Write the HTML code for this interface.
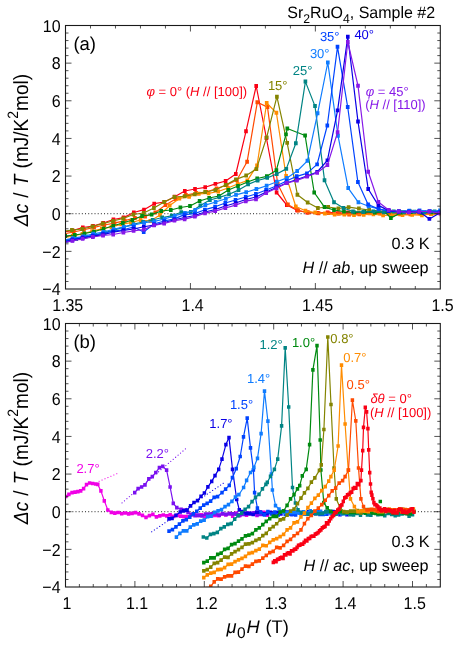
<!DOCTYPE html>
<html><head><meta charset="utf-8"><title>Sr2RuO4 specific heat</title>
<style>html,body{margin:0;padding:0;background:#fff}body{width:463px;height:649px;overflow:hidden;font-family:"Liberation Sans",sans-serif}svg{display:block;will-change:transform;transform:translateZ(0)}</style></head>
<body>
<svg width="463" height="649" viewBox="0 0 463 649" font-family='"Liberation Sans", sans-serif' text-rendering="geometricPrecision">
<rect width="463" height="649" fill="#fff"/>
<defs><clipPath id="ca"><rect x="65.5" y="25.5" width="374.8" height="263.5"/></clipPath>
<clipPath id="cb"><rect x="65.5" y="323.5" width="374.8" height="263.5"/></clipPath></defs>
<path d="M66 213.71H440.3" stroke="#222" stroke-width="1" stroke-dasharray="1 2.17" fill="none"/>
<g clip-path="url(#ca)">
<path d="M62.4 232 L72.6 230.6 L82.8 227.5 L93 226 L103.2 223 L113.4 219.5 L123.6 217.6 L133.8 212.5 L144 209.7 L154.2 203.7 L164.4 202 L174.6 196.8 L184.8 191 L195 189 L205.2 187.3 L215.4 183.9 L225.6 181 L235.8 174 L246 131.3 L256.2 86 L266.4 138 L276.6 192.5 L286.8 205 L297 210.3 L307.2 212.5 L317.4 213 L327.6 212.4 L337.8 213.2 L348 212.6 L358.2 213.3 L368.4 212.5 L378.6 213 L388.8 212.2 L399 213.4 L409.2 212.6 L419.4 213 L429.6 212.4 L439.8 213 L450 213.2" fill="none" stroke="#fa0014" stroke-width="1.2" stroke-linejoin="round"/><path d="M60.58 230.02h3.65v3.95h-3.65zM70.78 228.62h3.65v3.95h-3.65zM80.98 225.52h3.65v3.95h-3.65zM91.18 224.02h3.65v3.95h-3.65zM101.38 221.02h3.65v3.95h-3.65zM111.58 217.52h3.65v3.95h-3.65zM121.78 215.62h3.65v3.95h-3.65zM131.98 210.52h3.65v3.95h-3.65zM142.18 207.72h3.65v3.95h-3.65zM152.38 201.72h3.65v3.95h-3.65zM162.58 200.02h3.65v3.95h-3.65zM172.78 194.82h3.65v3.95h-3.65zM182.98 189.02h3.65v3.95h-3.65zM193.18 187.02h3.65v3.95h-3.65zM203.38 185.32h3.65v3.95h-3.65zM213.58 181.92h3.65v3.95h-3.65zM223.78 179.02h3.65v3.95h-3.65zM233.98 172.02h3.65v3.95h-3.65zM244.18 129.32h3.65v3.95h-3.65zM254.38 84.02h3.65v3.95h-3.65zM264.58 136.02h3.65v3.95h-3.65zM274.78 190.52h3.65v3.95h-3.65zM284.98 203.02h3.65v3.95h-3.65zM295.18 208.32h3.65v3.95h-3.65zM305.38 210.52h3.65v3.95h-3.65zM315.58 211.02h3.65v3.95h-3.65zM325.78 210.42h3.65v3.95h-3.65zM335.98 211.22h3.65v3.95h-3.65zM346.18 210.62h3.65v3.95h-3.65zM356.38 211.32h3.65v3.95h-3.65zM366.58 210.52h3.65v3.95h-3.65zM376.78 211.02h3.65v3.95h-3.65zM386.98 210.22h3.65v3.95h-3.65zM397.18 211.42h3.65v3.95h-3.65zM407.38 210.62h3.65v3.95h-3.65zM417.58 211.02h3.65v3.95h-3.65zM427.78 210.42h3.65v3.95h-3.65zM437.98 211.02h3.65v3.95h-3.65zM448.18 211.23h3.65v3.95h-3.65z" fill="#fa0014"/>
<path d="M53.3 235.69 L63.5 234 L73.7 232 L83.9 229.76 L94.1 227.36 L104.3 225 L114.5 223.12 L124.7 220.61 L134.9 218 L145.1 216.5 L155.3 212.5 L165.5 205 L175.7 199 L185.9 195 L196.1 193 L206.3 192 L216.5 188.5 L226.7 185 L236.9 180 L247.1 161.8 L257.3 102.3 L267.5 107.1 L277.7 184 L287.9 204.5 L298.1 210.5 L308.3 212.6 L318.5 213.2 L328.7 213.15 L338.9 213.6 L349.1 214.48 L359.3 214.2 L369.5 213.24 L379.7 213.2 L389.9 213.5 L400.1 214.31 L410.3 214.4 L420.5 213.65 L430.7 213.72 L440.9 213.4 L451.1 212.85" fill="none" stroke="#ff4a00" stroke-width="1.2" stroke-linejoin="round"/><path d="M51.48 233.72h3.65v3.95h-3.65zM61.68 232.02h3.65v3.95h-3.65zM71.88 230.02h3.65v3.95h-3.65zM82.08 227.78h3.65v3.95h-3.65zM92.28 225.39h3.65v3.95h-3.65zM102.48 223.02h3.65v3.95h-3.65zM112.68 221.14h3.65v3.95h-3.65zM122.88 218.63h3.65v3.95h-3.65zM133.08 216.02h3.65v3.95h-3.65zM143.28 214.52h3.65v3.95h-3.65zM153.48 210.52h3.65v3.95h-3.65zM163.68 203.02h3.65v3.95h-3.65zM173.88 197.02h3.65v3.95h-3.65zM184.08 193.02h3.65v3.95h-3.65zM194.28 191.02h3.65v3.95h-3.65zM204.48 190.02h3.65v3.95h-3.65zM214.68 186.52h3.65v3.95h-3.65zM224.88 183.02h3.65v3.95h-3.65zM235.08 178.02h3.65v3.95h-3.65zM245.28 159.82h3.65v3.95h-3.65zM255.48 100.32h3.65v3.95h-3.65zM265.68 105.12h3.65v3.95h-3.65zM275.88 182.02h3.65v3.95h-3.65zM286.08 202.52h3.65v3.95h-3.65zM296.28 208.52h3.65v3.95h-3.65zM306.48 210.62h3.65v3.95h-3.65zM316.68 211.22h3.65v3.95h-3.65zM326.88 211.17h3.65v3.95h-3.65zM337.08 211.62h3.65v3.95h-3.65zM347.28 212.5h3.65v3.95h-3.65zM357.48 212.22h3.65v3.95h-3.65zM367.68 211.27h3.65v3.95h-3.65zM377.88 211.22h3.65v3.95h-3.65zM388.08 211.53h3.65v3.95h-3.65zM398.28 212.33h3.65v3.95h-3.65zM408.48 212.42h3.65v3.95h-3.65zM418.68 211.67h3.65v3.95h-3.65zM428.88 211.74h3.65v3.95h-3.65zM439.08 211.42h3.65v3.95h-3.65zM449.28 210.87h3.65v3.95h-3.65z" fill="#ff4a00"/>
<path d="M63 238.06 L72.7 236 L82.4 234 L92.1 231.14 L101.8 228.8 L111.5 227 L121.2 224.31 L130.9 222.55 L140.6 220 L150.3 221 L160 215 L169.7 205.5 L179.4 198.5 L189.1 196.7 L198.8 193.8 L208.5 193.3 L218.2 191.5 L227.9 188 L237.6 184 L247.3 180.6 L257 165.6 L266.7 103 L276.4 112.8 L286.1 176 L295.8 206.5 L305.5 210.8 L315.2 212.6 L324.9 213.51 L334.6 214.6 L344.3 214.58 L354 215 L363.7 214.7 L373.4 214.2 L383.1 215.3 L392.8 215.09 L402.5 215 L412.2 214.86 L421.9 215.2 L431.6 214 L441.3 214.35 L451 214.24" fill="none" stroke="#ff8c00" stroke-width="1.2" stroke-linejoin="round"/><path d="M61.18 236.08h3.65v3.95h-3.65zM70.88 234.02h3.65v3.95h-3.65zM80.58 232.02h3.65v3.95h-3.65zM90.28 229.17h3.65v3.95h-3.65zM99.98 226.83h3.65v3.95h-3.65zM109.68 225.02h3.65v3.95h-3.65zM119.38 222.34h3.65v3.95h-3.65zM129.08 220.57h3.65v3.95h-3.65zM138.78 218.02h3.65v3.95h-3.65zM148.48 219.02h3.65v3.95h-3.65zM158.18 213.02h3.65v3.95h-3.65zM167.88 203.52h3.65v3.95h-3.65zM177.58 196.52h3.65v3.95h-3.65zM187.28 194.72h3.65v3.95h-3.65zM196.98 191.82h3.65v3.95h-3.65zM206.68 191.32h3.65v3.95h-3.65zM216.38 189.52h3.65v3.95h-3.65zM226.08 186.02h3.65v3.95h-3.65zM235.78 182.02h3.65v3.95h-3.65zM245.48 178.62h3.65v3.95h-3.65zM255.18 163.62h3.65v3.95h-3.65zM264.88 101.02h3.65v3.95h-3.65zM274.58 110.82h3.65v3.95h-3.65zM284.28 174.02h3.65v3.95h-3.65zM293.98 204.52h3.65v3.95h-3.65zM303.68 208.82h3.65v3.95h-3.65zM313.38 210.62h3.65v3.95h-3.65zM323.08 211.54h3.65v3.95h-3.65zM332.78 212.62h3.65v3.95h-3.65zM342.48 212.6h3.65v3.95h-3.65zM352.18 213.02h3.65v3.95h-3.65zM361.88 212.73h3.65v3.95h-3.65zM371.58 212.22h3.65v3.95h-3.65zM381.28 213.32h3.65v3.95h-3.65zM390.98 213.12h3.65v3.95h-3.65zM400.68 213.02h3.65v3.95h-3.65zM410.38 212.88h3.65v3.95h-3.65zM420.08 213.22h3.65v3.95h-3.65zM429.78 212.02h3.65v3.95h-3.65zM439.48 212.38h3.65v3.95h-3.65zM449.18 212.26h3.65v3.95h-3.65z" fill="#ff8c00"/>
<path d="M61.65 231.5 L71.9 230.1 L82.15 229 L92.4 226.5 L102.65 223.6 L112.9 221 L123.15 218.5 L133.4 214.5 L143.65 213 L153.9 208 L164.15 202 L174.4 197 L184.65 196.3 L194.9 194.2 L205.15 192 L215.4 190 L225.65 185 L235.9 179.4 L246.15 175.6 L256.4 169 L266.65 137.4 L276.9 96.7 L287.15 142.9 L297.4 194.7 L307.65 202.5 L317.9 208 L328.15 207 L338.4 208.5 L348.65 207.2 L358.9 208.6 L369.15 210 L379.4 211 L389.65 211.8 L399.9 212.2 L410.15 211.6 L420.4 212.4 L430.65 212 L440.9 212.5 L451.15 212.35" fill="none" stroke="#848400" stroke-width="1.2" stroke-linejoin="round"/><path d="M59.83 229.52h3.65v3.95h-3.65zM70.08 228.12h3.65v3.95h-3.65zM80.33 227.02h3.65v3.95h-3.65zM90.58 224.52h3.65v3.95h-3.65zM100.83 221.62h3.65v3.95h-3.65zM111.08 219.02h3.65v3.95h-3.65zM121.33 216.52h3.65v3.95h-3.65zM131.58 212.52h3.65v3.95h-3.65zM141.83 211.02h3.65v3.95h-3.65zM152.08 206.02h3.65v3.95h-3.65zM162.33 200.02h3.65v3.95h-3.65zM172.58 195.02h3.65v3.95h-3.65zM182.83 194.32h3.65v3.95h-3.65zM193.08 192.22h3.65v3.95h-3.65zM203.33 190.02h3.65v3.95h-3.65zM213.58 188.02h3.65v3.95h-3.65zM223.83 183.02h3.65v3.95h-3.65zM234.08 177.42h3.65v3.95h-3.65zM244.33 173.62h3.65v3.95h-3.65zM254.58 167.02h3.65v3.95h-3.65zM264.83 135.42h3.65v3.95h-3.65zM275.08 94.72h3.65v3.95h-3.65zM285.33 140.92h3.65v3.95h-3.65zM295.58 192.72h3.65v3.95h-3.65zM305.83 200.52h3.65v3.95h-3.65zM316.08 206.02h3.65v3.95h-3.65zM326.33 205.02h3.65v3.95h-3.65zM336.58 206.52h3.65v3.95h-3.65zM346.83 205.22h3.65v3.95h-3.65zM357.08 206.62h3.65v3.95h-3.65zM367.33 208.02h3.65v3.95h-3.65zM377.58 209.02h3.65v3.95h-3.65zM387.83 209.82h3.65v3.95h-3.65zM398.08 210.22h3.65v3.95h-3.65zM408.33 209.62h3.65v3.95h-3.65zM418.58 210.42h3.65v3.95h-3.65zM428.83 210.02h3.65v3.95h-3.65zM439.08 210.52h3.65v3.95h-3.65zM449.33 210.37h3.65v3.95h-3.65z" fill="#848400"/>
<path d="M55.6 237.79 L65.2 236.08 L74.8 235 L84.4 233.5 L94 231.7 L103.6 228.8 L113.2 225.8 L122.8 223 L132.4 220 L142 216 L151.6 214.6 L161.2 211 L170.8 210 L180.4 207.5 L190 206 L199.6 201 L209.2 198 L218.8 196 L228.4 190 L238 186 L247.6 182 L257.2 178.5 L266.8 176.3 L276.4 170.2 L286 134.4 L287.3 128.5 L305.1 135.5 L314.2 192.5 L324.5 207.1 L334 210 L344 211.6 L354.3 212.4 L364.5 211.8 L374.8 212.6 L385 212 L390.9 218 L401 212.6 L411.2 212 L421.4 212.8 L431.6 212.2 L439.8 212.6" fill="none" stroke="#008a10" stroke-width="1.2" stroke-linejoin="round"/><path d="M53.78 235.81h3.65v3.95h-3.65zM63.38 234.11h3.65v3.95h-3.65zM72.98 233.02h3.65v3.95h-3.65zM82.58 231.52h3.65v3.95h-3.65zM92.18 229.72h3.65v3.95h-3.65zM101.78 226.82h3.65v3.95h-3.65zM111.38 223.82h3.65v3.95h-3.65zM120.98 221.02h3.65v3.95h-3.65zM130.58 218.02h3.65v3.95h-3.65zM140.18 214.02h3.65v3.95h-3.65zM149.78 212.62h3.65v3.95h-3.65zM159.38 209.02h3.65v3.95h-3.65zM168.98 208.02h3.65v3.95h-3.65zM178.58 205.52h3.65v3.95h-3.65zM188.18 204.02h3.65v3.95h-3.65zM197.78 199.02h3.65v3.95h-3.65zM207.38 196.02h3.65v3.95h-3.65zM216.98 194.02h3.65v3.95h-3.65zM226.58 188.02h3.65v3.95h-3.65zM236.18 184.02h3.65v3.95h-3.65zM245.78 180.02h3.65v3.95h-3.65zM255.38 176.52h3.65v3.95h-3.65zM264.98 174.32h3.65v3.95h-3.65zM274.58 168.22h3.65v3.95h-3.65zM284.18 132.42h3.65v3.95h-3.65zM285.48 126.52h3.65v3.95h-3.65zM303.28 133.52h3.65v3.95h-3.65zM312.38 190.52h3.65v3.95h-3.65zM322.68 205.12h3.65v3.95h-3.65zM332.18 208.02h3.65v3.95h-3.65zM342.18 209.62h3.65v3.95h-3.65zM352.48 210.42h3.65v3.95h-3.65zM362.68 209.82h3.65v3.95h-3.65zM372.98 210.62h3.65v3.95h-3.65zM383.18 210.02h3.65v3.95h-3.65zM389.08 216.02h3.65v3.95h-3.65zM399.18 210.62h3.65v3.95h-3.65zM409.38 210.02h3.65v3.95h-3.65zM419.58 210.82h3.65v3.95h-3.65zM429.78 210.22h3.65v3.95h-3.65zM437.98 210.62h3.65v3.95h-3.65z" fill="#008a10"/>
<path d="M57.1 243.98 L66.65 240.89 L76.2 239 L85.75 236.6 L95.3 235 L104.85 232.54 L114.4 230 L123.95 227.17 L133.5 224.14 L143.05 222 L152.6 220 L162.15 217.5 L171.7 215.8 L181.25 212.3 L190.8 212 L200.35 205.5 L209.9 200 L219.45 197.4 L229 194.2 L238.55 190.1 L248.1 184.4 L257.65 180.5 L267.2 177.9 L276.75 174 L286.3 168.9 L295.85 143.2 L305.4 81.6 L315 106.1 L324.5 180.2 L334 202.3 L343.5 208 L353 211.5 L363.2 212 L373.4 211.4 L383.6 212.2 L393.8 211.6 L404 212.3 L414.2 211.8 L424.4 212.2 L434.6 211.6 L440 212" fill="none" stroke="#008484" stroke-width="1.2" stroke-linejoin="round"/><path d="M55.28 242.01h3.65v3.95h-3.65zM64.83 238.91h3.65v3.95h-3.65zM74.38 237.02h3.65v3.95h-3.65zM83.93 234.62h3.65v3.95h-3.65zM93.48 233.02h3.65v3.95h-3.65zM103.03 230.57h3.65v3.95h-3.65zM112.58 228.02h3.65v3.95h-3.65zM122.13 225.2h3.65v3.95h-3.65zM131.68 222.16h3.65v3.95h-3.65zM141.23 220.02h3.65v3.95h-3.65zM150.78 218.02h3.65v3.95h-3.65zM160.33 215.52h3.65v3.95h-3.65zM169.88 213.82h3.65v3.95h-3.65zM179.43 210.32h3.65v3.95h-3.65zM188.98 210.02h3.65v3.95h-3.65zM198.53 203.52h3.65v3.95h-3.65zM208.08 198.02h3.65v3.95h-3.65zM217.63 195.42h3.65v3.95h-3.65zM227.18 192.22h3.65v3.95h-3.65zM236.73 188.12h3.65v3.95h-3.65zM246.28 182.42h3.65v3.95h-3.65zM255.83 178.52h3.65v3.95h-3.65zM265.38 175.92h3.65v3.95h-3.65zM274.93 172.02h3.65v3.95h-3.65zM284.48 166.92h3.65v3.95h-3.65zM294.03 141.22h3.65v3.95h-3.65zM303.58 79.62h3.65v3.95h-3.65zM313.18 104.12h3.65v3.95h-3.65zM322.68 178.22h3.65v3.95h-3.65zM332.18 200.32h3.65v3.95h-3.65zM341.68 206.02h3.65v3.95h-3.65zM351.18 209.52h3.65v3.95h-3.65zM361.38 210.02h3.65v3.95h-3.65zM371.58 209.42h3.65v3.95h-3.65zM381.78 210.22h3.65v3.95h-3.65zM391.98 209.62h3.65v3.95h-3.65zM402.18 210.32h3.65v3.95h-3.65zM412.38 209.82h3.65v3.95h-3.65zM422.58 210.22h3.65v3.95h-3.65zM432.78 209.62h3.65v3.95h-3.65zM438.18 210.02h3.65v3.95h-3.65z" fill="#008484"/>
<path d="M62.6 240.5 L72.8 238.2 L83 236.56 L93.2 233.81 L103.4 232 L113.6 229.24 L123.8 226.87 L134 225 L144.2 222.77 L154.4 221.38 L164.6 219 L174.8 215.62 L185 213.1 L195.2 210 L205.4 205.1 L215.6 202 L225.8 198.7 L236 194.8 L246.2 192.2 L256.4 189.1 L266.6 185.7 L276.8 181.8 L287 177.9 L297.2 171 L307.4 160.8 L317.6 113.3 L327.8 62.5 L338 135.7 L348.2 188.1 L358.4 202.3 L368.6 206.3 L378.8 209 L389 210.8 L399.2 211.4 L409.4 210.8 L419.6 210.4 L429.8 211 L440 210.6 L450.2 210.77" fill="none" stroke="#0f7cff" stroke-width="1.2" stroke-linejoin="round"/><path d="M60.78 238.52h3.65v3.95h-3.65zM70.98 236.22h3.65v3.95h-3.65zM81.18 234.59h3.65v3.95h-3.65zM91.38 231.84h3.65v3.95h-3.65zM101.58 230.02h3.65v3.95h-3.65zM111.78 227.26h3.65v3.95h-3.65zM121.98 224.9h3.65v3.95h-3.65zM132.18 223.02h3.65v3.95h-3.65zM142.38 220.79h3.65v3.95h-3.65zM152.58 219.4h3.65v3.95h-3.65zM162.78 217.02h3.65v3.95h-3.65zM172.98 213.64h3.65v3.95h-3.65zM183.18 211.12h3.65v3.95h-3.65zM193.38 208.02h3.65v3.95h-3.65zM203.58 203.12h3.65v3.95h-3.65zM213.78 200.02h3.65v3.95h-3.65zM223.98 196.72h3.65v3.95h-3.65zM234.18 192.82h3.65v3.95h-3.65zM244.38 190.22h3.65v3.95h-3.65zM254.58 187.12h3.65v3.95h-3.65zM264.78 183.72h3.65v3.95h-3.65zM274.98 179.82h3.65v3.95h-3.65zM285.18 175.92h3.65v3.95h-3.65zM295.38 169.02h3.65v3.95h-3.65zM305.58 158.82h3.65v3.95h-3.65zM315.78 111.32h3.65v3.95h-3.65zM325.98 60.52h3.65v3.95h-3.65zM336.18 133.72h3.65v3.95h-3.65zM346.38 186.12h3.65v3.95h-3.65zM356.58 200.32h3.65v3.95h-3.65zM366.78 204.32h3.65v3.95h-3.65zM376.98 207.02h3.65v3.95h-3.65zM387.18 208.82h3.65v3.95h-3.65zM397.38 209.42h3.65v3.95h-3.65zM407.58 208.82h3.65v3.95h-3.65zM417.78 208.42h3.65v3.95h-3.65zM427.98 209.02h3.65v3.95h-3.65zM438.18 208.62h3.65v3.95h-3.65zM448.38 208.79h3.65v3.95h-3.65z" fill="#0f7cff"/>
<path d="M62.1 241.5 L72.3 239.2 L82.5 237.84 L92.7 235.49 L102.9 233.5 L113.1 231.21 L123.3 229.74 L133.5 227 L143.7 232 L153.9 224 L164.1 221 L174.3 218.9 L184.5 214.6 L194.7 213.6 L204.9 209.7 L215.1 206.8 L225.3 203 L235.5 200 L245.7 197 L255.9 194 L266.1 190 L276.3 186 L286.5 181 L296.7 176.3 L306.9 173.4 L317.1 164.4 L327.3 125.5 L337.5 46.8 L347.7 107 L357.9 182.1 L368.1 204.5 L378.3 208.9 L388.5 211 L398.7 211.6 L408.9 211.2 L419.1 211.8 L429.3 211.4 L439.5 212 L449.7 211.46" fill="none" stroke="#0044ff" stroke-width="1.2" stroke-linejoin="round"/><path d="M60.28 239.52h3.65v3.95h-3.65zM70.48 237.22h3.65v3.95h-3.65zM80.68 235.86h3.65v3.95h-3.65zM90.88 233.52h3.65v3.95h-3.65zM101.08 231.52h3.65v3.95h-3.65zM111.28 229.23h3.65v3.95h-3.65zM121.48 227.76h3.65v3.95h-3.65zM131.68 225.02h3.65v3.95h-3.65zM141.88 230.02h3.65v3.95h-3.65zM152.08 222.02h3.65v3.95h-3.65zM162.28 219.02h3.65v3.95h-3.65zM172.48 216.92h3.65v3.95h-3.65zM182.68 212.62h3.65v3.95h-3.65zM192.88 211.62h3.65v3.95h-3.65zM203.08 207.72h3.65v3.95h-3.65zM213.28 204.82h3.65v3.95h-3.65zM223.48 201.02h3.65v3.95h-3.65zM233.68 198.02h3.65v3.95h-3.65zM243.88 195.02h3.65v3.95h-3.65zM254.08 192.02h3.65v3.95h-3.65zM264.28 188.02h3.65v3.95h-3.65zM274.48 184.02h3.65v3.95h-3.65zM284.68 179.02h3.65v3.95h-3.65zM294.88 174.32h3.65v3.95h-3.65zM305.08 171.42h3.65v3.95h-3.65zM315.28 162.42h3.65v3.95h-3.65zM325.48 123.52h3.65v3.95h-3.65zM335.68 44.82h3.65v3.95h-3.65zM345.88 105.02h3.65v3.95h-3.65zM356.08 180.12h3.65v3.95h-3.65zM366.28 202.52h3.65v3.95h-3.65zM376.48 206.92h3.65v3.95h-3.65zM386.68 209.02h3.65v3.95h-3.65zM396.88 209.62h3.65v3.95h-3.65zM407.08 209.22h3.65v3.95h-3.65zM417.28 209.82h3.65v3.95h-3.65zM427.48 209.42h3.65v3.95h-3.65zM437.68 210.02h3.65v3.95h-3.65zM447.88 209.48h3.65v3.95h-3.65z" fill="#0044ff"/>
<path d="M62.2 242.5 L72.4 240.2 L82.6 237.78 L92.8 236.39 L103 234.6 L113.2 232.22 L123.4 230.38 L133.6 229 L143.8 226.74 L154 225.06 L164.2 222.5 L174.4 219.72 L184.6 217.5 L194.8 215.5 L205 212 L215.2 209.5 L225.4 206 L235.6 203 L245.8 199.5 L256 197 L266.2 192 L276.4 187.5 L286.6 183 L296.8 179.5 L307 176 L317.2 172 L327.4 160.4 L337.6 110.4 L347.8 36.7 L358 121.6 L368.2 189 L378.4 205.4 L388.6 210.6 L398.8 211.6 L409 212 L419.2 211.4 L429.4 218.9 L439.6 213 L449.8 213.15" fill="none" stroke="#0a00e6" stroke-width="1.2" stroke-linejoin="round"/><path d="M60.38 240.52h3.65v3.95h-3.65zM70.58 238.22h3.65v3.95h-3.65zM80.78 235.8h3.65v3.95h-3.65zM90.98 234.41h3.65v3.95h-3.65zM101.18 232.62h3.65v3.95h-3.65zM111.38 230.24h3.65v3.95h-3.65zM121.58 228.4h3.65v3.95h-3.65zM131.78 227.02h3.65v3.95h-3.65zM141.98 224.77h3.65v3.95h-3.65zM152.18 223.08h3.65v3.95h-3.65zM162.38 220.52h3.65v3.95h-3.65zM172.58 217.74h3.65v3.95h-3.65zM182.78 215.53h3.65v3.95h-3.65zM192.98 213.52h3.65v3.95h-3.65zM203.18 210.02h3.65v3.95h-3.65zM213.38 207.52h3.65v3.95h-3.65zM223.58 204.02h3.65v3.95h-3.65zM233.78 201.02h3.65v3.95h-3.65zM243.98 197.52h3.65v3.95h-3.65zM254.18 195.02h3.65v3.95h-3.65zM264.38 190.02h3.65v3.95h-3.65zM274.58 185.52h3.65v3.95h-3.65zM284.78 181.02h3.65v3.95h-3.65zM294.98 177.52h3.65v3.95h-3.65zM305.18 174.02h3.65v3.95h-3.65zM315.38 170.02h3.65v3.95h-3.65zM325.58 158.42h3.65v3.95h-3.65zM335.78 108.42h3.65v3.95h-3.65zM345.98 34.72h3.65v3.95h-3.65zM356.18 119.62h3.65v3.95h-3.65zM366.38 187.02h3.65v3.95h-3.65zM376.58 203.42h3.65v3.95h-3.65zM386.78 208.62h3.65v3.95h-3.65zM396.98 209.62h3.65v3.95h-3.65zM407.18 210.02h3.65v3.95h-3.65zM417.38 209.42h3.65v3.95h-3.65zM427.58 216.92h3.65v3.95h-3.65zM437.78 211.02h3.65v3.95h-3.65zM447.98 211.18h3.65v3.95h-3.65z" fill="#0a00e6"/>
<path d="M62.2 243 L72.4 240.8 L82.6 238.8 L92.8 237 L103 235.5 L113.2 234.5 L123.4 232.5 L133.6 230.8 L143.8 229.5 L154 225.3 L164.2 223.5 L174.4 220.6 L184.6 219.2 L194.8 216.6 L205 213.2 L215.2 211.1 L225.4 208 L235.6 205.1 L245.8 201.2 L256 199.4 L266.2 193 L276.4 188.3 L286.6 183.1 L296.8 180.5 L307 176.6 L317.2 172.7 L327.4 165.1 L337.6 132.3 L347.8 42 L358 85.7 L368.2 171.7 L378.4 202 L388.6 210 L398.8 211.5 L409 212.3 L419.2 211.5 L429.4 211.5 L439.6 213.2 L449.8 213.21" fill="none" stroke="#8618e8" stroke-width="1.2" stroke-linejoin="round"/><path d="M60.38 241.02h3.65v3.95h-3.65zM70.58 238.82h3.65v3.95h-3.65zM80.78 236.82h3.65v3.95h-3.65zM90.98 235.02h3.65v3.95h-3.65zM101.18 233.52h3.65v3.95h-3.65zM111.38 232.52h3.65v3.95h-3.65zM121.58 230.52h3.65v3.95h-3.65zM131.78 228.82h3.65v3.95h-3.65zM141.98 227.52h3.65v3.95h-3.65zM152.18 223.32h3.65v3.95h-3.65zM162.38 221.52h3.65v3.95h-3.65zM172.58 218.62h3.65v3.95h-3.65zM182.78 217.22h3.65v3.95h-3.65zM192.98 214.62h3.65v3.95h-3.65zM203.18 211.22h3.65v3.95h-3.65zM213.38 209.12h3.65v3.95h-3.65zM223.58 206.02h3.65v3.95h-3.65zM233.78 203.12h3.65v3.95h-3.65zM243.98 199.22h3.65v3.95h-3.65zM254.18 197.42h3.65v3.95h-3.65zM264.38 191.02h3.65v3.95h-3.65zM274.58 186.32h3.65v3.95h-3.65zM284.78 181.12h3.65v3.95h-3.65zM294.98 178.52h3.65v3.95h-3.65zM305.18 174.62h3.65v3.95h-3.65zM315.38 170.72h3.65v3.95h-3.65zM325.58 163.12h3.65v3.95h-3.65zM335.78 130.32h3.65v3.95h-3.65zM345.98 40.02h3.65v3.95h-3.65zM356.18 83.72h3.65v3.95h-3.65zM366.38 169.72h3.65v3.95h-3.65zM376.58 200.02h3.65v3.95h-3.65zM386.78 208.02h3.65v3.95h-3.65zM396.98 209.52h3.65v3.95h-3.65zM407.18 210.32h3.65v3.95h-3.65zM417.38 209.52h3.65v3.95h-3.65zM427.58 209.52h3.65v3.95h-3.65zM437.78 211.22h3.65v3.95h-3.65zM447.98 211.23h3.65v3.95h-3.65z" fill="#8618e8"/>
</g>
<path d="M65.5 33.03h3M440.3 33.03h-3M65.5 40.56h3M440.3 40.56h-3M65.5 48.09h3M440.3 48.09h-3M65.5 55.61h3M440.3 55.61h-3M65.5 63.14h6M440.3 63.14h-6M65.5 70.67h3M440.3 70.67h-3M65.5 78.2h3M440.3 78.2h-3M65.5 85.73h3M440.3 85.73h-3M65.5 93.26h3M440.3 93.26h-3M65.5 100.79h6M440.3 100.79h-6M65.5 108.31h3M440.3 108.31h-3M65.5 115.84h3M440.3 115.84h-3M65.5 123.37h3M440.3 123.37h-3M65.5 130.9h3M440.3 130.9h-3M65.5 138.43h6M440.3 138.43h-6M65.5 145.96h3M440.3 145.96h-3M65.5 153.49h3M440.3 153.49h-3M65.5 161.01h3M440.3 161.01h-3M65.5 168.54h3M440.3 168.54h-3M65.5 176.07h6M440.3 176.07h-6M65.5 183.6h3M440.3 183.6h-3M65.5 191.13h3M440.3 191.13h-3M65.5 198.66h3M440.3 198.66h-3M65.5 206.19h3M440.3 206.19h-3M65.5 213.71h6M440.3 213.71h-6M65.5 221.24h3M440.3 221.24h-3M65.5 228.77h3M440.3 228.77h-3M65.5 236.3h3M440.3 236.3h-3M65.5 243.83h3M440.3 243.83h-3M65.5 251.36h6M440.3 251.36h-6M65.5 258.89h3M440.3 258.89h-3M65.5 266.41h3M440.3 266.41h-3M65.5 273.94h3M440.3 273.94h-3M65.5 281.47h3M440.3 281.47h-3M190.43 289v-6M190.43 25.5v6M315.37 289v-6M315.37 25.5v6M90.49 289v-3M90.49 25.5v3M115.47 289v-3M115.47 25.5v3M140.46 289v-3M140.46 25.5v3M165.45 289v-3M165.45 25.5v3M215.42 289v-3M215.42 25.5v3M240.41 289v-3M240.41 25.5v3M265.39 289v-3M265.39 25.5v3M290.38 289v-3M290.38 25.5v3M340.35 289v-3M340.35 25.5v3M365.34 289v-3M365.34 25.5v3M390.33 289v-3M390.33 25.5v3M415.31 289v-3M415.31 25.5v3" stroke="#1a1a1a" stroke-width="0.75" fill="none"/>
<rect x="65.5" y="25.5" width="374.8" height="263.5" fill="none" stroke="#1a1a1a" stroke-width="1.1"/>
<path d="M66 511.71H440.3" stroke="#222" stroke-width="1" stroke-dasharray="1 2.17" fill="none"/>
<g clip-path="url(#cb)">
<path d="M99.1 481.3L116.9 473.7" stroke="#f000e6" stroke-width="1.15" stroke-linecap="round" stroke-dasharray="0.1 3.1" fill="none"/>
<path d="M122 502.9L187 447.6" stroke="#7a10f0" stroke-width="1.15" stroke-linecap="round" stroke-dasharray="0.1 3.1" fill="none"/>
<path d="M151.7 531.8L224.3 482.6" stroke="#0a00e6" stroke-width="1.15" stroke-linecap="round" stroke-dasharray="0.1 3.1" fill="none"/>
<path d="M62.6 498 L65.8 496.5 L68.9 494.4 L72 492.7 L75 492.1 L77.9 491.6 L80.7 490.9 L83.6 488.7 L86.5 484.7 L89.6 483 L92.7 483.5 L95.7 484 L97.8 484.4 L100.9 490.9 L104.3 500.8 L107.8 510 L111.3 512.4 L114.8 513.2 L118.2 512.5 L121.7 513.6 L125.2 513 L128.6 513.8 L132.1 513.3 L135.6 512.6 L139 513.8 L142.5 515.3 L146 517.4 L149.4 515.6 L152.9 514.4 L156.4 516.9 L159.8 515.8 L163.3 515 L166.8 515.9 L170.2 514.8 L173.7 516.4 L177.2 515.4 L180.6 516.11 L184.07 516.64 L187.54 516.58 L191.01 514.7 L194.48 514.16 L197.95 515.3 L201.42 514.86 L204.89 516.59 L208.36 516.09 L211.83 515.69 L215.3 515.44 L218.77 515.7 L222.24 513.85 L225.71 514.76 L229.18 513.72 L232.65 516.15 L236.12 513.18 L239.59 515.66 L243.06 513.04 L246.53 515.03 L250 513.74 L253.47 513.87 L256.94 515.27 L260.41 512.37 L263.88 512.42 L267.35 515.23" fill="none" stroke="#f000e6" stroke-width="1.2" stroke-linejoin="round"/><path d="M60.87 496.13h3.46v3.74h-3.46zM64.07 494.63h3.46v3.74h-3.46zM67.17 492.53h3.46v3.74h-3.46zM70.27 490.83h3.46v3.74h-3.46zM73.27 490.23h3.46v3.74h-3.46zM76.17 489.73h3.46v3.74h-3.46zM78.97 489.03h3.46v3.74h-3.46zM81.87 486.83h3.46v3.74h-3.46zM84.77 482.83h3.46v3.74h-3.46zM87.87 481.13h3.46v3.74h-3.46zM90.97 481.63h3.46v3.74h-3.46zM93.97 482.13h3.46v3.74h-3.46zM96.07 482.53h3.46v3.74h-3.46zM99.17 489.03h3.46v3.74h-3.46zM102.57 498.93h3.46v3.74h-3.46zM106.07 508.13h3.46v3.74h-3.46zM109.57 510.53h3.46v3.74h-3.46zM113.07 511.33h3.46v3.74h-3.46zM116.47 510.63h3.46v3.74h-3.46zM119.97 511.73h3.46v3.74h-3.46zM123.47 511.13h3.46v3.74h-3.46zM126.87 511.93h3.46v3.74h-3.46zM130.37 511.43h3.46v3.74h-3.46zM133.87 510.73h3.46v3.74h-3.46zM137.27 511.93h3.46v3.74h-3.46zM140.77 513.43h3.46v3.74h-3.46zM144.27 515.53h3.46v3.74h-3.46zM147.67 513.73h3.46v3.74h-3.46zM151.17 512.53h3.46v3.74h-3.46zM154.67 515.03h3.46v3.74h-3.46zM158.07 513.93h3.46v3.74h-3.46zM161.57 513.13h3.46v3.74h-3.46zM165.07 514.03h3.46v3.74h-3.46zM168.47 512.93h3.46v3.74h-3.46zM171.97 514.53h3.46v3.74h-3.46zM175.47 513.53h3.46v3.74h-3.46zM178.87 514.24h3.46v3.74h-3.46zM182.34 514.77h3.46v3.74h-3.46zM185.81 514.7h3.46v3.74h-3.46zM189.28 512.83h3.46v3.74h-3.46zM192.75 512.28h3.46v3.74h-3.46zM196.22 513.43h3.46v3.74h-3.46zM199.69 512.99h3.46v3.74h-3.46zM203.16 514.72h3.46v3.74h-3.46zM206.63 514.21h3.46v3.74h-3.46zM210.1 513.82h3.46v3.74h-3.46zM213.57 513.57h3.46v3.74h-3.46zM217.04 513.83h3.46v3.74h-3.46zM220.51 511.98h3.46v3.74h-3.46zM223.98 512.89h3.46v3.74h-3.46zM227.45 511.85h3.46v3.74h-3.46zM230.92 514.28h3.46v3.74h-3.46zM234.39 511.3h3.46v3.74h-3.46zM237.86 513.79h3.46v3.74h-3.46zM241.33 511.17h3.46v3.74h-3.46zM244.8 513.15h3.46v3.74h-3.46zM248.27 511.87h3.46v3.74h-3.46zM251.74 512h3.46v3.74h-3.46zM255.21 513.4h3.46v3.74h-3.46zM258.68 510.5h3.46v3.74h-3.46zM262.15 510.55h3.46v3.74h-3.46zM265.62 513.36h3.46v3.74h-3.46z" fill="#f000e6"/>
<path d="M134.7 492.7 L138.1 488.7 L141.6 487 L145 484.9 L148.8 478.9 L152.3 476.6 L155.8 472.5 L159.4 467.6 L162.8 466.3 L166.6 470.2 L170.1 487 L173.3 503.3 L176.8 507.6 L181.1 509.4 L184.5 510.2 L188 512.5 L191.5 514.62 L194.97 515.57 L198.44 515.48 L201.91 515.8 L205.38 514.13 L208.85 514.16 L212.32 513.88 L215.79 513.99 L219.26 515.13 L222.73 513.6 L226.2 514.49 L229.67 513.65 L233.14 513.76 L236.61 514.01 L240.08 514.91 L243.55 514.28 L247.02 512.77 L250.49 513.32 L253.96 512.93 L257.43 514.59 L260.9 514.37" fill="none" stroke="#7a10f0" stroke-width="1.2" stroke-linejoin="round"/><path d="M132.97 490.83h3.46v3.74h-3.46zM136.37 486.83h3.46v3.74h-3.46zM139.87 485.13h3.46v3.74h-3.46zM143.27 483.03h3.46v3.74h-3.46zM147.07 477.03h3.46v3.74h-3.46zM150.57 474.73h3.46v3.74h-3.46zM154.07 470.63h3.46v3.74h-3.46zM157.67 465.73h3.46v3.74h-3.46zM161.07 464.43h3.46v3.74h-3.46zM164.87 468.33h3.46v3.74h-3.46zM168.37 485.13h3.46v3.74h-3.46zM171.57 501.43h3.46v3.74h-3.46zM175.07 505.73h3.46v3.74h-3.46zM179.37 507.53h3.46v3.74h-3.46zM182.77 508.33h3.46v3.74h-3.46zM186.27 510.63h3.46v3.74h-3.46zM189.77 512.75h3.46v3.74h-3.46zM193.24 513.69h3.46v3.74h-3.46zM196.71 513.61h3.46v3.74h-3.46zM200.18 513.93h3.46v3.74h-3.46zM203.65 512.26h3.46v3.74h-3.46zM207.12 512.29h3.46v3.74h-3.46zM210.59 512.01h3.46v3.74h-3.46zM214.06 512.12h3.46v3.74h-3.46zM217.53 513.26h3.46v3.74h-3.46zM221 511.73h3.46v3.74h-3.46zM224.47 512.62h3.46v3.74h-3.46zM227.94 511.78h3.46v3.74h-3.46zM231.41 511.89h3.46v3.74h-3.46zM234.88 512.14h3.46v3.74h-3.46zM238.35 513.04h3.46v3.74h-3.46zM241.82 512.41h3.46v3.74h-3.46zM245.29 510.9h3.46v3.74h-3.46zM248.76 511.45h3.46v3.74h-3.46zM252.23 511.06h3.46v3.74h-3.46zM255.7 512.72h3.46v3.74h-3.46zM259.17 512.5h3.46v3.74h-3.46z" fill="#7a10f0"/>
<path d="M169 518.9 L172.1 518.4 L175.9 515.4 L180.2 512 L183.7 510.8 L187.1 510.2 L190.6 505.9 L194 502.5 L197.5 500.7 L201 496.4 L204.4 493 L207.9 486.9 L211.7 481.4 L215 475.6 L218.7 469.4 L222 459.1 L225.9 444.6 L229 437.6 L232.5 469.4 L236.7 499.5 L239.3 509.9 L242.8 511.66 L246.27 513.69 L249.74 513.52 L253.21 514.5 L256.68 512.22 L260.15 512.17 L263.62 513.8 L267.09 513.54 L270.56 512.33 L274.03 513.63 L277.5 512.65 L280.97 513.94 L284.44 511.7 L287.91 512.06 L291.38 514.36 L294.85 512.52 L298.32 512.19 L301.79 514.03 L305.26 513.45 L308.73 511.81 L312.2 513.17 L315.67 513.56 L319.14 511.86 L322.61 513.52 L326.08 511.72 L329.55 512.45 L333.02 511.58 L336.49 512 L339.96 514.63 L343.43 512.67 L346.9 514.67" fill="none" stroke="#0a00e6" stroke-width="1.2" stroke-linejoin="round"/><path d="M167.27 517.03h3.46v3.74h-3.46zM170.37 516.53h3.46v3.74h-3.46zM174.17 513.53h3.46v3.74h-3.46zM178.47 510.13h3.46v3.74h-3.46zM181.97 508.93h3.46v3.74h-3.46zM185.37 508.33h3.46v3.74h-3.46zM188.87 504.03h3.46v3.74h-3.46zM192.27 500.63h3.46v3.74h-3.46zM195.77 498.83h3.46v3.74h-3.46zM199.27 494.53h3.46v3.74h-3.46zM202.67 491.13h3.46v3.74h-3.46zM206.17 485.03h3.46v3.74h-3.46zM209.97 479.53h3.46v3.74h-3.46zM213.27 473.73h3.46v3.74h-3.46zM216.97 467.53h3.46v3.74h-3.46zM220.27 457.23h3.46v3.74h-3.46zM224.17 442.73h3.46v3.74h-3.46zM227.27 435.73h3.46v3.74h-3.46zM230.77 467.53h3.46v3.74h-3.46zM234.97 497.63h3.46v3.74h-3.46zM237.57 508.03h3.46v3.74h-3.46zM241.07 509.79h3.46v3.74h-3.46zM244.54 511.82h3.46v3.74h-3.46zM248.01 511.64h3.46v3.74h-3.46zM251.48 512.63h3.46v3.74h-3.46zM254.95 510.35h3.46v3.74h-3.46zM258.42 510.3h3.46v3.74h-3.46zM261.89 511.92h3.46v3.74h-3.46zM265.36 511.67h3.46v3.74h-3.46zM268.83 510.46h3.46v3.74h-3.46zM272.3 511.75h3.46v3.74h-3.46zM275.77 510.78h3.46v3.74h-3.46zM279.24 512.07h3.46v3.74h-3.46zM282.71 509.83h3.46v3.74h-3.46zM286.18 510.19h3.46v3.74h-3.46zM289.65 512.49h3.46v3.74h-3.46zM293.12 510.65h3.46v3.74h-3.46zM296.59 510.31h3.46v3.74h-3.46zM300.06 512.16h3.46v3.74h-3.46zM303.53 511.58h3.46v3.74h-3.46zM307 509.94h3.46v3.74h-3.46zM310.47 511.3h3.46v3.74h-3.46zM313.94 511.69h3.46v3.74h-3.46zM317.41 509.99h3.46v3.74h-3.46zM320.88 511.64h3.46v3.74h-3.46zM324.35 509.85h3.46v3.74h-3.46zM327.82 510.57h3.46v3.74h-3.46zM331.29 509.71h3.46v3.74h-3.46zM334.76 510.12h3.46v3.74h-3.46zM338.23 512.75h3.46v3.74h-3.46zM341.7 510.8h3.46v3.74h-3.46zM345.17 512.8h3.46v3.74h-3.46z" fill="#0a00e6"/>
<path d="M169 531.06 L172.47 529.65 L175.94 526.96 L179.41 524.05 L182.88 520.91 L186.35 519.61 L189.82 517.08 L193.29 513.86 L196.76 511.28 L200.23 508.12 L203.7 505.04 L207.17 503.28 L210.64 501.19 L214.11 497.49 L217.58 496.52 L222 492.6 L225.6 489.2 L229.3 485.4 L232.4 477.7 L236.3 468.7 L240.2 456.5 L243.5 436.8 L247.2 418.1 L250.5 447.9 L253.4 469.9 L254.6 492.6 L257.4 508.2 L260.9 512.5 L264.4 514.78 L267.87 511.54 L271.34 514 L274.81 512.04 L278.28 514.85 L281.75 511.56 L285.22 514.49 L288.69 513.82 L292.16 514.41 L295.63 514.9 L299.1 512.32 L302.57 512.65 L306.04 513.91 L309.51 512.45 L312.98 512.4 L316.45 512.28 L319.92 514.42 L323.39 514.47 L326.86 514.21 L330.33 512.26 L333.8 514.64 L337.27 513.24 L340.74 512.29 L344.21 513.05" fill="none" stroke="#0044ff" stroke-width="1.2" stroke-linejoin="round"/><path d="M167.27 529.19h3.46v3.74h-3.46zM170.74 527.78h3.46v3.74h-3.46zM174.21 525.09h3.46v3.74h-3.46zM177.68 522.18h3.46v3.74h-3.46zM181.15 519.04h3.46v3.74h-3.46zM184.62 517.74h3.46v3.74h-3.46zM188.09 515.21h3.46v3.74h-3.46zM191.56 511.99h3.46v3.74h-3.46zM195.03 509.41h3.46v3.74h-3.46zM198.5 506.25h3.46v3.74h-3.46zM201.97 503.17h3.46v3.74h-3.46zM205.44 501.41h3.46v3.74h-3.46zM208.91 499.32h3.46v3.74h-3.46zM212.38 495.62h3.46v3.74h-3.46zM215.85 494.64h3.46v3.74h-3.46zM220.27 490.73h3.46v3.74h-3.46zM223.87 487.33h3.46v3.74h-3.46zM227.57 483.53h3.46v3.74h-3.46zM230.67 475.83h3.46v3.74h-3.46zM234.57 466.83h3.46v3.74h-3.46zM238.47 454.63h3.46v3.74h-3.46zM241.77 434.93h3.46v3.74h-3.46zM245.47 416.23h3.46v3.74h-3.46zM248.77 446.03h3.46v3.74h-3.46zM251.67 468.03h3.46v3.74h-3.46zM252.87 490.73h3.46v3.74h-3.46zM255.67 506.33h3.46v3.74h-3.46zM259.17 510.63h3.46v3.74h-3.46zM262.67 512.91h3.46v3.74h-3.46zM266.14 509.67h3.46v3.74h-3.46zM269.61 512.13h3.46v3.74h-3.46zM273.08 510.17h3.46v3.74h-3.46zM276.55 512.98h3.46v3.74h-3.46zM280.02 509.69h3.46v3.74h-3.46zM283.49 512.62h3.46v3.74h-3.46zM286.96 511.94h3.46v3.74h-3.46zM290.43 512.54h3.46v3.74h-3.46zM293.9 513.03h3.46v3.74h-3.46zM297.37 510.44h3.46v3.74h-3.46zM300.84 510.78h3.46v3.74h-3.46zM304.31 512.04h3.46v3.74h-3.46zM307.78 510.58h3.46v3.74h-3.46zM311.25 510.52h3.46v3.74h-3.46zM314.72 510.41h3.46v3.74h-3.46zM318.19 512.54h3.46v3.74h-3.46zM321.66 512.6h3.46v3.74h-3.46zM325.13 512.34h3.46v3.74h-3.46zM328.6 510.39h3.46v3.74h-3.46zM332.07 512.77h3.46v3.74h-3.46zM335.54 511.37h3.46v3.74h-3.46zM339.01 510.41h3.46v3.74h-3.46zM342.48 511.18h3.46v3.74h-3.46z" fill="#0044ff"/>
<path d="M176.4 537.21 L179.87 533.29 L183.34 530.91 L186.81 530.94 L190.28 527.02 L193.75 524.76 L197.22 523.81 L200.69 521.02 L204.16 520.1 L207.63 516.53 L211.1 516.01 L214.57 512.48 L218.04 510.98 L221.51 509.59 L224.98 506.7 L228.45 504.51 L231.92 501.31 L235.39 497.14 L238.86 494.74 L243.6 487.5 L246.6 480.3 L250.5 472.5 L253.9 467.4 L257.5 458.3 L261.1 433.7 L264.5 391.1 L267.9 421.2 L271.4 474 L272.4 490 L275.5 505.6 L279 509 L282.5 512.13 L285.97 512.53 L289.44 512.32 L292.91 512.42 L296.38 512.29 L299.85 513.14 L303.32 511.78 L306.79 513.06 L310.26 510.93 L313.73 511.93 L317.2 512.04 L320.67 511.38 L324.14 513.43 L327.61 511.95 L331.08 513.58 L334.55 514.15 L338.02 511.76 L341.49 513.94 L344.96 513.65 L348.43 513.17" fill="none" stroke="#0f7cff" stroke-width="1.2" stroke-linejoin="round"/><path d="M174.67 535.34h3.46v3.74h-3.46zM178.14 531.42h3.46v3.74h-3.46zM181.61 529.04h3.46v3.74h-3.46zM185.08 529.06h3.46v3.74h-3.46zM188.55 525.15h3.46v3.74h-3.46zM192.02 522.89h3.46v3.74h-3.46zM195.49 521.94h3.46v3.74h-3.46zM198.96 519.15h3.46v3.74h-3.46zM202.43 518.22h3.46v3.74h-3.46zM205.9 514.66h3.46v3.74h-3.46zM209.37 514.14h3.46v3.74h-3.46zM212.84 510.61h3.46v3.74h-3.46zM216.31 509.11h3.46v3.74h-3.46zM219.78 507.72h3.46v3.74h-3.46zM223.25 504.83h3.46v3.74h-3.46zM226.72 502.64h3.46v3.74h-3.46zM230.19 499.44h3.46v3.74h-3.46zM233.66 495.27h3.46v3.74h-3.46zM237.13 492.87h3.46v3.74h-3.46zM241.87 485.63h3.46v3.74h-3.46zM244.87 478.43h3.46v3.74h-3.46zM248.77 470.63h3.46v3.74h-3.46zM252.17 465.53h3.46v3.74h-3.46zM255.77 456.43h3.46v3.74h-3.46zM259.37 431.83h3.46v3.74h-3.46zM262.77 389.23h3.46v3.74h-3.46zM266.17 419.33h3.46v3.74h-3.46zM269.67 472.13h3.46v3.74h-3.46zM270.67 488.13h3.46v3.74h-3.46zM273.77 503.73h3.46v3.74h-3.46zM277.27 507.13h3.46v3.74h-3.46zM280.77 510.26h3.46v3.74h-3.46zM284.24 510.66h3.46v3.74h-3.46zM287.71 510.45h3.46v3.74h-3.46zM291.18 510.55h3.46v3.74h-3.46zM294.65 510.42h3.46v3.74h-3.46zM298.12 511.26h3.46v3.74h-3.46zM301.59 509.91h3.46v3.74h-3.46zM305.06 511.19h3.46v3.74h-3.46zM308.53 509.06h3.46v3.74h-3.46zM312 510.05h3.46v3.74h-3.46zM315.47 510.17h3.46v3.74h-3.46zM318.94 509.51h3.46v3.74h-3.46zM322.41 511.56h3.46v3.74h-3.46zM325.88 510.08h3.46v3.74h-3.46zM329.35 511.71h3.46v3.74h-3.46zM332.82 512.28h3.46v3.74h-3.46zM336.29 509.89h3.46v3.74h-3.46zM339.76 512.07h3.46v3.74h-3.46zM343.23 511.77h3.46v3.74h-3.46zM346.7 511.3h3.46v3.74h-3.46z" fill="#0f7cff"/>
<path d="M203.3 537 L206.8 538 L210.4 534.43 L213.87 533.51 L217.34 532.4 L220.81 528.6 L224.28 526.83 L227.75 524.46 L231.22 523.56 L234.69 519.02 L238.16 515.7 L241.63 513.13 L245.1 509.49 L248.57 506.53 L252.04 501.51 L255.51 497.32 L258.98 494.34 L262.45 488.97 L265.92 484.27 L267.3 482.3 L270.5 476.4 L274.4 469.4 L277.7 459.1 L281.6 425.9 L285.2 347.8 L288.7 407 L292.5 487.5 L295.4 503 L298 509.9 L301.5 512.67 L304.97 513.59 L308.44 514.12 L311.91 512.17 L315.38 513.67 L318.85 513.55 L322.32 513.49 L325.79 511.91 L329.26 511.72 L332.73 512.86 L336.2 514.02 L339.67 512.6 L343.14 513.42 L346.61 512.93 L350.08 514.59 L353.55 514.95 L357.02 513.39 L360.49 515.25 L363.96 512.51 L367.43 514.83 L370.9 515.08 L374.37 512.98 L377.84 514.71 L381.31 514.34 L384.78 515.59 L388.25 513.43 L391.72 514.48 L395.19 515.58 L398.66 514.92 L402.13 514 L405.6 513.38 L409.07 516.02 L412.54 514.69" fill="none" stroke="#008484" stroke-width="1.2" stroke-linejoin="round"/><path d="M201.57 535.13h3.46v3.74h-3.46zM205.07 536.13h3.46v3.74h-3.46zM208.67 532.56h3.46v3.74h-3.46zM212.14 531.64h3.46v3.74h-3.46zM215.61 530.53h3.46v3.74h-3.46zM219.08 526.72h3.46v3.74h-3.46zM222.55 524.96h3.46v3.74h-3.46zM226.02 522.59h3.46v3.74h-3.46zM229.49 521.68h3.46v3.74h-3.46zM232.96 517.15h3.46v3.74h-3.46zM236.43 513.83h3.46v3.74h-3.46zM239.9 511.26h3.46v3.74h-3.46zM243.37 507.61h3.46v3.74h-3.46zM246.84 504.66h3.46v3.74h-3.46zM250.31 499.64h3.46v3.74h-3.46zM253.78 495.45h3.46v3.74h-3.46zM257.25 492.47h3.46v3.74h-3.46zM260.72 487.1h3.46v3.74h-3.46zM264.19 482.4h3.46v3.74h-3.46zM265.57 480.43h3.46v3.74h-3.46zM268.77 474.53h3.46v3.74h-3.46zM272.67 467.53h3.46v3.74h-3.46zM275.97 457.23h3.46v3.74h-3.46zM279.87 424.03h3.46v3.74h-3.46zM283.47 345.93h3.46v3.74h-3.46zM286.97 405.13h3.46v3.74h-3.46zM290.77 485.63h3.46v3.74h-3.46zM293.67 501.13h3.46v3.74h-3.46zM296.27 508.03h3.46v3.74h-3.46zM299.77 510.79h3.46v3.74h-3.46zM303.24 511.72h3.46v3.74h-3.46zM306.71 512.25h3.46v3.74h-3.46zM310.18 510.3h3.46v3.74h-3.46zM313.65 511.8h3.46v3.74h-3.46zM317.12 511.68h3.46v3.74h-3.46zM320.59 511.62h3.46v3.74h-3.46zM324.06 510.03h3.46v3.74h-3.46zM327.53 509.85h3.46v3.74h-3.46zM331 510.99h3.46v3.74h-3.46zM334.47 512.15h3.46v3.74h-3.46zM337.94 510.73h3.46v3.74h-3.46zM341.41 511.55h3.46v3.74h-3.46zM344.88 511.06h3.46v3.74h-3.46zM348.35 512.72h3.46v3.74h-3.46zM351.82 513.08h3.46v3.74h-3.46zM355.29 511.52h3.46v3.74h-3.46zM358.76 513.38h3.46v3.74h-3.46zM362.23 510.64h3.46v3.74h-3.46zM365.7 512.96h3.46v3.74h-3.46zM369.17 513.21h3.46v3.74h-3.46zM372.64 511.11h3.46v3.74h-3.46zM376.11 512.84h3.46v3.74h-3.46zM379.58 512.47h3.46v3.74h-3.46zM383.05 513.72h3.46v3.74h-3.46zM386.52 511.55h3.46v3.74h-3.46zM389.99 512.61h3.46v3.74h-3.46zM393.46 513.71h3.46v3.74h-3.46zM396.93 513.04h3.46v3.74h-3.46zM400.4 512.12h3.46v3.74h-3.46zM403.87 511.51h3.46v3.74h-3.46zM407.34 514.15h3.46v3.74h-3.46zM410.81 512.82h3.46v3.74h-3.46z" fill="#008484"/>
<path d="M203.8 562.57 L207.27 561.08 L210.74 557.86 L214.21 557.89 L217.68 554.35 L221.15 553.19 L224.62 549.47 L228.09 548.48 L231.56 544.7 L235.03 543.52 L238.5 541.16 L241.97 538.84 L245.44 535.85 L248.91 535.03 L252.38 533.55 L255.85 529.89 L259.32 527.89 L262.79 524.7 L266.26 521.29 L269.73 518.56 L273.2 516.5 L276.67 516.29 L280.14 512.01 L283.61 510.96 L287.08 505.26 L290.55 498.92 L294.02 494.62 L297.49 488.89 L299.7 485.7 L302.3 475.8 L306.2 469.4 L309.6 444.6 L312.9 369.8 L317 345.7 L320.2 440 L320.9 470 L323.8 502.7 L327.2 507.9 L330.7 511.32 L334.17 512.95 L337.64 511.84 L341.11 511.37 L344.58 512.36 L348.05 512.38 L351.52 512.33 L354.99 512.26 L358.46 511.6 L361.93 511.56 L365.4 513.05 L368.87 511.8 L372.34 512.99 L375.81 513.38 L379.28 513.64 L382.75 513.91 L386.22 511.5 L389.69 511.51 L393.16 513.2 L396.63 512.66 L400.1 511.39 L403.57 513 L407.04 513.67 L410.51 513.54 L413.98 511.43" fill="none" stroke="#008a10" stroke-width="1.2" stroke-linejoin="round"/><path d="M202.07 560.7h3.46v3.74h-3.46zM205.54 559.21h3.46v3.74h-3.46zM209.01 555.99h3.46v3.74h-3.46zM212.48 556.02h3.46v3.74h-3.46zM215.95 552.48h3.46v3.74h-3.46zM219.42 551.32h3.46v3.74h-3.46zM222.89 547.59h3.46v3.74h-3.46zM226.36 546.61h3.46v3.74h-3.46zM229.83 542.83h3.46v3.74h-3.46zM233.3 541.65h3.46v3.74h-3.46zM236.77 539.28h3.46v3.74h-3.46zM240.24 536.97h3.46v3.74h-3.46zM243.71 533.98h3.46v3.74h-3.46zM247.18 533.16h3.46v3.74h-3.46zM250.65 531.68h3.46v3.74h-3.46zM254.12 528.01h3.46v3.74h-3.46zM257.59 526.02h3.46v3.74h-3.46zM261.06 522.83h3.46v3.74h-3.46zM264.53 519.42h3.46v3.74h-3.46zM268 516.69h3.46v3.74h-3.46zM271.47 514.62h3.46v3.74h-3.46zM274.94 514.42h3.46v3.74h-3.46zM278.41 510.14h3.46v3.74h-3.46zM281.88 509.08h3.46v3.74h-3.46zM285.35 503.39h3.46v3.74h-3.46zM288.82 497.04h3.46v3.74h-3.46zM292.29 492.75h3.46v3.74h-3.46zM295.76 487.02h3.46v3.74h-3.46zM297.97 483.83h3.46v3.74h-3.46zM300.57 473.93h3.46v3.74h-3.46zM304.47 467.53h3.46v3.74h-3.46zM307.87 442.73h3.46v3.74h-3.46zM311.17 367.93h3.46v3.74h-3.46zM315.27 343.83h3.46v3.74h-3.46zM318.47 438.13h3.46v3.74h-3.46zM319.17 468.13h3.46v3.74h-3.46zM322.07 500.83h3.46v3.74h-3.46zM325.47 506.03h3.46v3.74h-3.46zM328.97 509.44h3.46v3.74h-3.46zM332.44 511.08h3.46v3.74h-3.46zM335.91 509.97h3.46v3.74h-3.46zM339.38 509.5h3.46v3.74h-3.46zM342.85 510.49h3.46v3.74h-3.46zM346.32 510.51h3.46v3.74h-3.46zM349.79 510.46h3.46v3.74h-3.46zM353.26 510.39h3.46v3.74h-3.46zM356.73 509.73h3.46v3.74h-3.46zM360.2 509.69h3.46v3.74h-3.46zM363.67 511.18h3.46v3.74h-3.46zM367.14 509.93h3.46v3.74h-3.46zM370.61 511.12h3.46v3.74h-3.46zM374.08 511.5h3.46v3.74h-3.46zM377.55 511.77h3.46v3.74h-3.46zM381.02 512.04h3.46v3.74h-3.46zM384.49 509.63h3.46v3.74h-3.46zM387.96 509.64h3.46v3.74h-3.46zM391.43 511.33h3.46v3.74h-3.46zM394.9 510.78h3.46v3.74h-3.46zM398.37 509.51h3.46v3.74h-3.46zM401.84 511.13h3.46v3.74h-3.46zM405.31 511.8h3.46v3.74h-3.46zM408.78 511.67h3.46v3.74h-3.46zM412.25 509.56h3.46v3.74h-3.46z" fill="#008a10"/>
<path d="M378.57 499.63h3.46v3.74h-3.46z" fill="#008a10"/>
<path d="M203.8 570.83 L207.27 569.69 L210.74 567.17 L214.21 563.44 L217.68 562.54 L221.15 560.07 L224.62 557.01 L228.09 557.27 L231.56 553.98 L235.03 551.71 L238.5 549.54 L241.97 547.48 L245.44 544.19 L248.91 543.86 L252.38 542.62 L255.85 540.36 L259.32 538.84 L262.79 535.66 L266.26 533.3 L269.73 529.08 L273.2 526.52 L276.67 523.75 L280.14 519.93 L283.61 518.83 L287.08 515.15 L290.55 511.04 L294.02 509.15 L297.49 503.69 L300.96 498.08 L304.43 492.81 L307.9 488.26 L311.37 482.2 L314.84 477.88 L319.4 470.4 L321.3 464.9 L323.9 429.5 L327.8 337 L331 404.5 L334 468 L336.3 498.9 L340.2 507.9 L343.7 511.64 L347.17 512.03 L350.64 511.07 L354.11 511.04 L357.58 510.62 L361.05 512.79 L364.52 510.24 L367.99 509.73 L371.46 510.14 L374.93 510.14 L378.4 510.38 L381.87 510.16 L385.34 509.59 L388.81 510.37 L392.28 510.32 L395.75 511.25 L399.22 509.93 L402.69 509.45 L406.16 509.93 L409.63 511.15 L413.1 510.6" fill="none" stroke="#848400" stroke-width="1.2" stroke-linejoin="round"/><path d="M202.07 568.96h3.46v3.74h-3.46zM205.54 567.82h3.46v3.74h-3.46zM209.01 565.3h3.46v3.74h-3.46zM212.48 561.57h3.46v3.74h-3.46zM215.95 560.67h3.46v3.74h-3.46zM219.42 558.19h3.46v3.74h-3.46zM222.89 555.14h3.46v3.74h-3.46zM226.36 555.39h3.46v3.74h-3.46zM229.83 552.11h3.46v3.74h-3.46zM233.3 549.84h3.46v3.74h-3.46zM236.77 547.67h3.46v3.74h-3.46zM240.24 545.6h3.46v3.74h-3.46zM243.71 542.31h3.46v3.74h-3.46zM247.18 541.99h3.46v3.74h-3.46zM250.65 540.75h3.46v3.74h-3.46zM254.12 538.49h3.46v3.74h-3.46zM257.59 536.97h3.46v3.74h-3.46zM261.06 533.79h3.46v3.74h-3.46zM264.53 531.43h3.46v3.74h-3.46zM268 527.21h3.46v3.74h-3.46zM271.47 524.65h3.46v3.74h-3.46zM274.94 521.88h3.46v3.74h-3.46zM278.41 518.06h3.46v3.74h-3.46zM281.88 516.96h3.46v3.74h-3.46zM285.35 513.28h3.46v3.74h-3.46zM288.82 509.16h3.46v3.74h-3.46zM292.29 507.28h3.46v3.74h-3.46zM295.76 501.82h3.46v3.74h-3.46zM299.23 496.2h3.46v3.74h-3.46zM302.7 490.94h3.46v3.74h-3.46zM306.17 486.39h3.46v3.74h-3.46zM309.64 480.33h3.46v3.74h-3.46zM313.11 476.01h3.46v3.74h-3.46zM317.67 468.53h3.46v3.74h-3.46zM319.57 463.03h3.46v3.74h-3.46zM322.17 427.63h3.46v3.74h-3.46zM326.07 335.13h3.46v3.74h-3.46zM329.27 402.63h3.46v3.74h-3.46zM332.27 466.13h3.46v3.74h-3.46zM334.57 497.03h3.46v3.74h-3.46zM338.47 506.03h3.46v3.74h-3.46zM341.97 509.77h3.46v3.74h-3.46zM345.44 510.15h3.46v3.74h-3.46zM348.91 509.2h3.46v3.74h-3.46zM352.38 509.17h3.46v3.74h-3.46zM355.85 508.74h3.46v3.74h-3.46zM359.32 510.92h3.46v3.74h-3.46zM362.79 508.37h3.46v3.74h-3.46zM366.26 507.86h3.46v3.74h-3.46zM369.73 508.27h3.46v3.74h-3.46zM373.2 508.27h3.46v3.74h-3.46zM376.67 508.51h3.46v3.74h-3.46zM380.14 508.29h3.46v3.74h-3.46zM383.61 507.72h3.46v3.74h-3.46zM387.08 508.5h3.46v3.74h-3.46zM390.55 508.45h3.46v3.74h-3.46zM394.02 509.38h3.46v3.74h-3.46zM397.49 508.05h3.46v3.74h-3.46zM400.96 507.58h3.46v3.74h-3.46zM404.43 508.06h3.46v3.74h-3.46zM407.9 509.28h3.46v3.74h-3.46zM411.37 508.73h3.46v3.74h-3.46z" fill="#848400"/>
<path d="M203.8 577.64 L207.27 574.81 L210.74 573.19 L214.21 572.43 L217.68 569.6 L221.15 569.47 L224.62 567.7 L228.09 564.36 L231.56 564.02 L235.03 561.57 L238.5 559.78 L241.97 558.4 L245.44 556.44 L248.91 553.37 L252.38 552.52 L255.85 550.59 L259.32 549.24 L262.79 545.46 L266.26 545.75 L269.73 542.47 L273.2 539.98 L276.67 538.51 L280.14 536.54 L283.61 534.3 L287.08 529.88 L290.55 527.79 L294.02 522.93 L297.49 521.88 L300.96 516.92 L304.43 513.04 L307.9 507.69 L311.37 503.08 L314.84 498.49 L318.31 495.22 L321.78 490.56 L325.25 486.55 L328.72 481.03 L330.9 476.6 L334.2 470.1 L338.1 446 L341.5 365.2 L345.1 424 L348.2 470 L350.5 498.9 L354.4 506.6 L357.9 511.66 L361.37 510.87 L364.84 511.16 L368.31 511.66 L371.78 509.34 L375.25 510.69 L378.72 511.66 L382.19 511.54 L385.66 510.46 L389.13 509.01 L392.6 509.88 L396.07 511.98 L399.54 508.77 L403.01 509.55 L406.48 511.82 L409.95 510.02 L413.42 509.15" fill="none" stroke="#ff8c00" stroke-width="1.2" stroke-linejoin="round"/><path d="M202.07 575.77h3.46v3.74h-3.46zM205.54 572.94h3.46v3.74h-3.46zM209.01 571.32h3.46v3.74h-3.46zM212.48 570.55h3.46v3.74h-3.46zM215.95 567.73h3.46v3.74h-3.46zM219.42 567.6h3.46v3.74h-3.46zM222.89 565.83h3.46v3.74h-3.46zM226.36 562.49h3.46v3.74h-3.46zM229.83 562.15h3.46v3.74h-3.46zM233.3 559.7h3.46v3.74h-3.46zM236.77 557.91h3.46v3.74h-3.46zM240.24 556.52h3.46v3.74h-3.46zM243.71 554.57h3.46v3.74h-3.46zM247.18 551.49h3.46v3.74h-3.46zM250.65 550.65h3.46v3.74h-3.46zM254.12 548.72h3.46v3.74h-3.46zM257.59 547.37h3.46v3.74h-3.46zM261.06 543.59h3.46v3.74h-3.46zM264.53 543.88h3.46v3.74h-3.46zM268 540.59h3.46v3.74h-3.46zM271.47 538.11h3.46v3.74h-3.46zM274.94 536.64h3.46v3.74h-3.46zM278.41 534.67h3.46v3.74h-3.46zM281.88 532.42h3.46v3.74h-3.46zM285.35 528.01h3.46v3.74h-3.46zM288.82 525.92h3.46v3.74h-3.46zM292.29 521.06h3.46v3.74h-3.46zM295.76 520.01h3.46v3.74h-3.46zM299.23 515.05h3.46v3.74h-3.46zM302.7 511.17h3.46v3.74h-3.46zM306.17 505.81h3.46v3.74h-3.46zM309.64 501.21h3.46v3.74h-3.46zM313.11 496.62h3.46v3.74h-3.46zM316.58 493.35h3.46v3.74h-3.46zM320.05 488.69h3.46v3.74h-3.46zM323.52 484.68h3.46v3.74h-3.46zM326.99 479.16h3.46v3.74h-3.46zM329.17 474.73h3.46v3.74h-3.46zM332.47 468.23h3.46v3.74h-3.46zM336.37 444.13h3.46v3.74h-3.46zM339.77 363.33h3.46v3.74h-3.46zM343.37 422.13h3.46v3.74h-3.46zM346.47 468.13h3.46v3.74h-3.46zM348.77 497.03h3.46v3.74h-3.46zM352.67 504.73h3.46v3.74h-3.46zM356.17 509.79h3.46v3.74h-3.46zM359.64 509h3.46v3.74h-3.46zM363.11 509.29h3.46v3.74h-3.46zM366.58 509.78h3.46v3.74h-3.46zM370.05 507.46h3.46v3.74h-3.46zM373.52 508.82h3.46v3.74h-3.46zM376.99 509.79h3.46v3.74h-3.46zM380.46 509.67h3.46v3.74h-3.46zM383.93 508.59h3.46v3.74h-3.46zM387.4 507.14h3.46v3.74h-3.46zM390.87 508.01h3.46v3.74h-3.46zM394.34 510.11h3.46v3.74h-3.46zM397.81 506.9h3.46v3.74h-3.46zM401.28 507.68h3.46v3.74h-3.46zM404.75 509.95h3.46v3.74h-3.46zM408.22 508.15h3.46v3.74h-3.46zM411.69 507.28h3.46v3.74h-3.46z" fill="#ff8c00"/>
<path d="M203.8 591.33 L207.27 588.6 L210.74 586.35 L214.21 581.98 L217.68 578.99 L221.15 579.03 L224.62 576.9 L228.09 575.94 L231.56 575.87 L235.03 572.49 L238.5 572.03 L241.97 569.06 L245.44 566.16 L248.91 566.41 L252.38 564.04 L255.85 561.33 L259.32 560.91 L262.79 558.13 L266.26 555.41 L269.73 552.59 L273.2 551.32 L276.67 547.42 L280.14 547.79 L283.61 545.31 L287.08 541.49 L290.55 539.31 L294.02 535.75 L297.49 533.47 L300.96 529.85 L304.43 523.67 L307.9 518.71 L311.37 515.36 L314.84 511.18 L318.31 508.17 L321.78 504.58 L325.25 500.25 L328.72 495.69 L332.19 490.87 L335.66 488.02 L339.13 483.02 L342.6 480.6 L345.1 476.6 L348.5 470.1 L352.4 400.2 L355.8 420.9 L358.5 468 L360.9 498.9 L363.5 506.6 L367 510 L370.5 509.56 L373.97 509.62 L377.44 511.11 L380.91 509.77 L384.38 509.62 L387.85 510.69 L391.32 510.54 L394.79 509.88 L398.26 510.45 L401.73 511.9 L405.2 509.62 L408.67 509.8 L412.14 509.29" fill="none" stroke="#ff4a00" stroke-width="1.2" stroke-linejoin="round"/><path d="M202.07 589.45h3.46v3.74h-3.46zM205.54 586.73h3.46v3.74h-3.46zM209.01 584.48h3.46v3.74h-3.46zM212.48 580.11h3.46v3.74h-3.46zM215.95 577.12h3.46v3.74h-3.46zM219.42 577.16h3.46v3.74h-3.46zM222.89 575.03h3.46v3.74h-3.46zM226.36 574.07h3.46v3.74h-3.46zM229.83 573.99h3.46v3.74h-3.46zM233.3 570.62h3.46v3.74h-3.46zM236.77 570.16h3.46v3.74h-3.46zM240.24 567.18h3.46v3.74h-3.46zM243.71 564.29h3.46v3.74h-3.46zM247.18 564.54h3.46v3.74h-3.46zM250.65 562.16h3.46v3.74h-3.46zM254.12 559.46h3.46v3.74h-3.46zM257.59 559.04h3.46v3.74h-3.46zM261.06 556.26h3.46v3.74h-3.46zM264.53 553.54h3.46v3.74h-3.46zM268 550.71h3.46v3.74h-3.46zM271.47 549.45h3.46v3.74h-3.46zM274.94 545.55h3.46v3.74h-3.46zM278.41 545.92h3.46v3.74h-3.46zM281.88 543.43h3.46v3.74h-3.46zM285.35 539.61h3.46v3.74h-3.46zM288.82 537.44h3.46v3.74h-3.46zM292.29 533.88h3.46v3.74h-3.46zM295.76 531.6h3.46v3.74h-3.46zM299.23 527.98h3.46v3.74h-3.46zM302.7 521.8h3.46v3.74h-3.46zM306.17 516.84h3.46v3.74h-3.46zM309.64 513.49h3.46v3.74h-3.46zM313.11 509.31h3.46v3.74h-3.46zM316.58 506.3h3.46v3.74h-3.46zM320.05 502.71h3.46v3.74h-3.46zM323.52 498.38h3.46v3.74h-3.46zM326.99 493.82h3.46v3.74h-3.46zM330.46 489h3.46v3.74h-3.46zM333.93 486.15h3.46v3.74h-3.46zM337.4 481.15h3.46v3.74h-3.46zM340.87 478.73h3.46v3.74h-3.46zM343.37 474.73h3.46v3.74h-3.46zM346.77 468.23h3.46v3.74h-3.46zM350.67 398.33h3.46v3.74h-3.46zM354.07 419.03h3.46v3.74h-3.46zM356.77 466.13h3.46v3.74h-3.46zM359.17 497.03h3.46v3.74h-3.46zM361.77 504.73h3.46v3.74h-3.46zM365.27 508.13h3.46v3.74h-3.46zM368.77 507.69h3.46v3.74h-3.46zM372.24 507.75h3.46v3.74h-3.46zM375.71 509.24h3.46v3.74h-3.46zM379.18 507.9h3.46v3.74h-3.46zM382.65 507.75h3.46v3.74h-3.46zM386.12 508.81h3.46v3.74h-3.46zM389.59 508.66h3.46v3.74h-3.46zM393.06 508.01h3.46v3.74h-3.46zM396.53 508.58h3.46v3.74h-3.46zM400 510.02h3.46v3.74h-3.46zM403.47 507.75h3.46v3.74h-3.46zM406.94 507.93h3.46v3.74h-3.46zM410.41 507.42h3.46v3.74h-3.46z" fill="#ff4a00"/>
<path d="M273.3 562.34 L274.7 560.98 L276.1 561.71 L277.5 559.28 L278.9 559.19 L280.3 557.93 L281.7 557.38 L283.1 558.29 L284.5 554.82 L285.9 554.93 L287.3 553.36 L288.7 552.81 L290.1 553.85 L291.5 550.92 L292.9 550.84 L294.3 549.34 L295.7 549.23 L297.1 547.34 L298.5 545.47 L299.9 545.22 L301.3 544.1 L302.7 544.22 L304.1 542.48 L305.5 540.38 L306.9 540.83 L308.3 538.71 L309.7 538.37 L311.1 536.5 L312.5 536.09 L313.9 536.12 L315.3 534.17 L316.7 533.73 L318.1 532.6 L319.5 530.94 L320.9 529.97 L322.3 527.99 L323.7 527.23 L325.1 526.29 L326.5 522.84 L327.9 523.94 L329.3 520.81 L330.7 518.51 L332.1 516.72 L333.5 515.47 L334.9 512.84 L336.3 512 L337.7 510.24 L339.1 509.08 L340.5 505.98 L341.9 504.84 L343.3 501.47 L344.7 497.91 L346.1 497.03 L347.5 494.85 L348.9 494.49 L350.3 492.62 L351.7 492.15 L353.1 488.7 L354.5 487.72 L355.9 488.12 L357.3 483.59 L358.7 484.61 L360.9 480.7 L361.5 470.1 L362.7 450.7 L363.5 427.4 L365.3 407.4 L366.6 411.8 L367.9 428.7 L368.7 449.9 L369.7 472.7 L370.5 484 L371.2 492.4 L371.9 495.23 L372.9 498.76 L373.9 502.56 L374.9 504.74 L375.9 504.75 L376.9 505.78 L377.9 506.86 L378.9 508.99 L379.9 508.18 L380.9 510.43 L381.7 510.96 L383.1 509.96 L384.5 508.92 L385.9 511.41 L387.3 509.64 L388.7 509.83 L390.1 510.39 L391.5 511.37 L392.9 512.76 L394.3 510.65 L395.7 512.77 L397.1 512.77 L398.5 509.77 L399.9 509.09 L401.3 509.44 L402.7 512.17 L404.1 511.2 L405.5 512.47 L406.9 512.69 L408.3 511.42 L409.7 510.94 L411.1 509.07 L412.5 508.89 L413.9 512.02" fill="none" stroke="#fa0014" stroke-width="1.2" stroke-linejoin="round"/><path d="M271.57 560.47h3.46v3.74h-3.46zM272.97 559.1h3.46v3.74h-3.46zM274.37 559.84h3.46v3.74h-3.46zM275.77 557.41h3.46v3.74h-3.46zM277.17 557.31h3.46v3.74h-3.46zM278.57 556.05h3.46v3.74h-3.46zM279.97 555.51h3.46v3.74h-3.46zM281.37 556.42h3.46v3.74h-3.46zM282.77 552.95h3.46v3.74h-3.46zM284.17 553.06h3.46v3.74h-3.46zM285.57 551.48h3.46v3.74h-3.46zM286.97 550.94h3.46v3.74h-3.46zM288.37 551.97h3.46v3.74h-3.46zM289.77 549.05h3.46v3.74h-3.46zM291.17 548.97h3.46v3.74h-3.46zM292.57 547.46h3.46v3.74h-3.46zM293.97 547.36h3.46v3.74h-3.46zM295.37 545.47h3.46v3.74h-3.46zM296.77 543.6h3.46v3.74h-3.46zM298.17 543.35h3.46v3.74h-3.46zM299.57 542.23h3.46v3.74h-3.46zM300.97 542.34h3.46v3.74h-3.46zM302.37 540.61h3.46v3.74h-3.46zM303.77 538.51h3.46v3.74h-3.46zM305.17 538.96h3.46v3.74h-3.46zM306.57 536.84h3.46v3.74h-3.46zM307.97 536.49h3.46v3.74h-3.46zM309.37 534.63h3.46v3.74h-3.46zM310.77 534.21h3.46v3.74h-3.46zM312.17 534.25h3.46v3.74h-3.46zM313.57 532.29h3.46v3.74h-3.46zM314.97 531.86h3.46v3.74h-3.46zM316.37 530.73h3.46v3.74h-3.46zM317.77 529.07h3.46v3.74h-3.46zM319.17 528.1h3.46v3.74h-3.46zM320.57 526.11h3.46v3.74h-3.46zM321.97 525.36h3.46v3.74h-3.46zM323.37 524.42h3.46v3.74h-3.46zM324.77 520.97h3.46v3.74h-3.46zM326.17 522.07h3.46v3.74h-3.46zM327.57 518.94h3.46v3.74h-3.46zM328.97 516.64h3.46v3.74h-3.46zM330.37 514.85h3.46v3.74h-3.46zM331.77 513.6h3.46v3.74h-3.46zM333.17 510.97h3.46v3.74h-3.46zM334.57 510.13h3.46v3.74h-3.46zM335.97 508.36h3.46v3.74h-3.46zM337.37 507.21h3.46v3.74h-3.46zM338.77 504.1h3.46v3.74h-3.46zM340.17 502.97h3.46v3.74h-3.46zM341.57 499.6h3.46v3.74h-3.46zM342.97 496.04h3.46v3.74h-3.46zM344.37 495.16h3.46v3.74h-3.46zM345.77 492.98h3.46v3.74h-3.46zM347.17 492.61h3.46v3.74h-3.46zM348.57 490.75h3.46v3.74h-3.46zM349.97 490.27h3.46v3.74h-3.46zM351.37 486.83h3.46v3.74h-3.46zM352.77 485.84h3.46v3.74h-3.46zM354.17 486.24h3.46v3.74h-3.46zM355.57 481.71h3.46v3.74h-3.46zM356.97 482.74h3.46v3.74h-3.46zM359.17 478.83h3.46v3.74h-3.46zM359.77 468.23h3.46v3.74h-3.46zM360.97 448.83h3.46v3.74h-3.46zM361.77 425.53h3.46v3.74h-3.46zM363.57 405.53h3.46v3.74h-3.46zM364.87 409.93h3.46v3.74h-3.46zM366.17 426.83h3.46v3.74h-3.46zM366.97 448.03h3.46v3.74h-3.46zM367.97 470.83h3.46v3.74h-3.46zM368.77 482.13h3.46v3.74h-3.46zM369.47 490.53h3.46v3.74h-3.46zM370.17 493.36h3.46v3.74h-3.46zM371.17 496.88h3.46v3.74h-3.46zM372.17 500.69h3.46v3.74h-3.46zM373.17 502.87h3.46v3.74h-3.46zM374.17 502.88h3.46v3.74h-3.46zM375.17 503.9h3.46v3.74h-3.46zM376.17 504.98h3.46v3.74h-3.46zM377.17 507.12h3.46v3.74h-3.46zM378.17 506.3h3.46v3.74h-3.46zM379.17 508.55h3.46v3.74h-3.46zM379.97 509.08h3.46v3.74h-3.46zM381.37 508.08h3.46v3.74h-3.46zM382.77 507.05h3.46v3.74h-3.46zM384.17 509.54h3.46v3.74h-3.46zM385.57 507.77h3.46v3.74h-3.46zM386.97 507.96h3.46v3.74h-3.46zM388.37 508.52h3.46v3.74h-3.46zM389.77 509.49h3.46v3.74h-3.46zM391.17 510.88h3.46v3.74h-3.46zM392.57 508.77h3.46v3.74h-3.46zM393.97 510.9h3.46v3.74h-3.46zM395.37 510.9h3.46v3.74h-3.46zM396.77 507.9h3.46v3.74h-3.46zM398.17 507.22h3.46v3.74h-3.46zM399.57 507.57h3.46v3.74h-3.46zM400.97 510.3h3.46v3.74h-3.46zM402.37 509.33h3.46v3.74h-3.46zM403.77 510.6h3.46v3.74h-3.46zM405.17 510.82h3.46v3.74h-3.46zM406.57 509.55h3.46v3.74h-3.46zM407.97 509.07h3.46v3.74h-3.46zM409.37 507.2h3.46v3.74h-3.46zM410.77 507.02h3.46v3.74h-3.46zM412.17 510.15h3.46v3.74h-3.46z" fill="#fa0014"/>
</g>
<path d="M65.5 331.03h3M440.3 331.03h-3M65.5 338.56h3M440.3 338.56h-3M65.5 346.09h3M440.3 346.09h-3M65.5 353.61h3M440.3 353.61h-3M65.5 361.14h6M440.3 361.14h-6M65.5 368.67h3M440.3 368.67h-3M65.5 376.2h3M440.3 376.2h-3M65.5 383.73h3M440.3 383.73h-3M65.5 391.26h3M440.3 391.26h-3M65.5 398.79h6M440.3 398.79h-6M65.5 406.31h3M440.3 406.31h-3M65.5 413.84h3M440.3 413.84h-3M65.5 421.37h3M440.3 421.37h-3M65.5 428.9h3M440.3 428.9h-3M65.5 436.43h6M440.3 436.43h-6M65.5 443.96h3M440.3 443.96h-3M65.5 451.49h3M440.3 451.49h-3M65.5 459.01h3M440.3 459.01h-3M65.5 466.54h3M440.3 466.54h-3M65.5 474.07h6M440.3 474.07h-6M65.5 481.6h3M440.3 481.6h-3M65.5 489.13h3M440.3 489.13h-3M65.5 496.66h3M440.3 496.66h-3M65.5 504.19h3M440.3 504.19h-3M65.5 511.71h6M440.3 511.71h-6M65.5 519.24h3M440.3 519.24h-3M65.5 526.77h3M440.3 526.77h-3M65.5 534.3h3M440.3 534.3h-3M65.5 541.83h3M440.3 541.83h-3M65.5 549.36h6M440.3 549.36h-6M65.5 556.89h3M440.3 556.89h-3M65.5 564.41h3M440.3 564.41h-3M65.5 571.94h3M440.3 571.94h-3M65.5 579.47h3M440.3 579.47h-3M134.9 587v-6M134.9 323.5v6M204.3 587v-6M204.3 323.5v6M273.7 587v-6M273.7 323.5v6M343.1 587v-6M343.1 323.5v6M412.5 587v-6M412.5 323.5v6M79.38 587v-3M79.38 323.5v3M93.26 587v-3M93.26 323.5v3M107.14 587v-3M107.14 323.5v3M121.02 587v-3M121.02 323.5v3M148.78 587v-3M148.78 323.5v3M162.66 587v-3M162.66 323.5v3M176.54 587v-3M176.54 323.5v3M190.42 587v-3M190.42 323.5v3M218.18 587v-3M218.18 323.5v3M232.06 587v-3M232.06 323.5v3M245.94 587v-3M245.94 323.5v3M259.82 587v-3M259.82 323.5v3M287.58 587v-3M287.58 323.5v3M301.46 587v-3M301.46 323.5v3M315.34 587v-3M315.34 323.5v3M329.22 587v-3M329.22 323.5v3M356.98 587v-3M356.98 323.5v3M370.86 587v-3M370.86 323.5v3M384.74 587v-3M384.74 323.5v3M398.62 587v-3M398.62 323.5v3M426.38 587v-3M426.38 323.5v3" stroke="#1a1a1a" stroke-width="0.75" fill="none"/>
<rect x="65.5" y="323.5" width="374.8" height="263.5" fill="none" stroke="#1a1a1a" stroke-width="1.1"/>
<text transform="translate(60.6 31.7) scale(0.93 1)" font-size="17.2" text-anchor="end" fill="#000">10</text>
<text transform="translate(60.6 69.34) scale(0.93 1)" font-size="17.2" text-anchor="end" fill="#000">8</text>
<text transform="translate(60.6 106.99) scale(0.93 1)" font-size="17.2" text-anchor="end" fill="#000">6</text>
<text transform="translate(60.6 144.63) scale(0.93 1)" font-size="17.2" text-anchor="end" fill="#000">4</text>
<text transform="translate(60.6 182.27) scale(0.93 1)" font-size="17.2" text-anchor="end" fill="#000">2</text>
<text transform="translate(60.6 219.91) scale(0.93 1)" font-size="17.2" text-anchor="end" fill="#000">0</text>
<text transform="translate(60.6 257.56) scale(0.93 1)" font-size="17.2" text-anchor="end" fill="#000">−2</text>
<text transform="translate(60.6 295.2) scale(0.93 1)" font-size="17.2" text-anchor="end" fill="#000">−4</text>
<text transform="translate(60.6 329.7) scale(0.93 1)" font-size="17.2" text-anchor="end" fill="#000">10</text>
<text transform="translate(60.6 367.34) scale(0.93 1)" font-size="17.2" text-anchor="end" fill="#000">8</text>
<text transform="translate(60.6 404.99) scale(0.93 1)" font-size="17.2" text-anchor="end" fill="#000">6</text>
<text transform="translate(60.6 442.63) scale(0.93 1)" font-size="17.2" text-anchor="end" fill="#000">4</text>
<text transform="translate(60.6 480.27) scale(0.93 1)" font-size="17.2" text-anchor="end" fill="#000">2</text>
<text transform="translate(60.6 517.91) scale(0.93 1)" font-size="17.2" text-anchor="end" fill="#000">0</text>
<text transform="translate(60.6 555.56) scale(0.93 1)" font-size="17.2" text-anchor="end" fill="#000">−2</text>
<text transform="translate(60.6 593.2) scale(0.93 1)" font-size="17.2" text-anchor="end" fill="#000">−4</text>
<text transform="translate(67.7 310.5) scale(0.93 1)" font-size="17.2" text-anchor="middle" fill="#000">1.35</text>
<text transform="translate(192.63 310.5) scale(0.93 1)" font-size="17.2" text-anchor="middle" fill="#000">1.4</text>
<text transform="translate(317.57 310.5) scale(0.93 1)" font-size="17.2" text-anchor="middle" fill="#000">1.45</text>
<text transform="translate(442.5 310.5) scale(0.93 1)" font-size="17.2" text-anchor="middle" fill="#000">1.5</text>
<text transform="translate(66.9 608.7) scale(0.93 1)" font-size="17.2" text-anchor="middle" fill="#000">1</text>
<text transform="translate(137.1 608.7) scale(0.93 1)" font-size="17.2" text-anchor="middle" fill="#000">1.1</text>
<text transform="translate(206.5 608.7) scale(0.93 1)" font-size="17.2" text-anchor="middle" fill="#000">1.2</text>
<text transform="translate(275.9 608.7) scale(0.93 1)" font-size="17.2" text-anchor="middle" fill="#000">1.3</text>
<text transform="translate(345.3 608.7) scale(0.93 1)" font-size="17.2" text-anchor="middle" fill="#000">1.4</text>
<text transform="translate(414.7 608.7) scale(0.93 1)" font-size="17.2" text-anchor="middle" fill="#000">1.5</text>
<text transform="translate(287.3 18.3) scale(0.97 1)" font-size="16.49" text-anchor="start" fill="#000">Sr<tspan font-size="12.6" dy="4.7">2</tspan><tspan dy="-4.7">RuO</tspan><tspan font-size="12.6" dy="4.7">4</tspan><tspan dy="-4.7">, Sample #2</tspan></text>
<text transform="translate(27.5 150) rotate(-90) scale(0.93 1)" font-size="20.5" word-spacing="0.9" text-anchor="middle" fill="#000"><tspan font-style="italic">Δc</tspan> / <tspan font-style="italic">T</tspan> (mJ/K<tspan font-size="15" dy="-10">2</tspan><tspan dy="10">mol)</tspan></text>
<text transform="translate(27.5 448) rotate(-90) scale(0.93 1)" font-size="20.5" word-spacing="0.9" text-anchor="middle" fill="#000"><tspan font-style="italic">Δc</tspan> / <tspan font-style="italic">T</tspan> (mJ/K<tspan font-size="15" dy="-10">2</tspan><tspan dy="10">mol)</tspan></text>
<text x="226.6" y="632.6" font-size="18.3" fill="#000"><tspan font-style="italic">μ</tspan><tspan font-size="15.5" dy="5.2" dx="0.4">0</tspan><tspan dy="-5.2" dx="0.9" font-style="italic">H</tspan><tspan dx="0.7"> (T)</tspan></text>
<text x="73.4" y="50.2" font-size="18.5" text-anchor="start" fill="#000">(a)</text>
<text x="73.4" y="348.2" font-size="18.5" text-anchor="start" fill="#000">(b)</text>
<text x="429.6" y="249.2" font-size="16.3" text-anchor="end" fill="#000">0.3 K</text>
<text x="428.6" y="273.4" font-size="16.2" text-anchor="end" fill="#000"><tspan font-style="italic">H</tspan> // <tspan font-style="italic">ab</tspan>, up sweep</text>
<text x="429.6" y="547.2" font-size="16.3" text-anchor="end" fill="#000">0.3 K</text>
<text x="428.6" y="571.4" font-size="16.2" text-anchor="end" fill="#000"><tspan font-style="italic">H</tspan> // <tspan font-style="italic">ac</tspan>, up sweep</text>
<text x="146.4" y="95.8" font-size="13" text-anchor="start" fill="#fa0014"><tspan font-style="italic">φ</tspan> = 0° (<tspan font-style="italic">H</tspan> // [100])</text>
<text x="267.9" y="90.2" font-size="13" text-anchor="start" fill="#848400">15°</text>
<text x="292.7" y="75.1" font-size="13" text-anchor="start" fill="#008484">25°</text>
<text x="309.9" y="57.8" font-size="13" text-anchor="start" fill="#0f7cff">30°</text>
<text x="319.9" y="41.1" font-size="13" text-anchor="start" fill="#0044ff">35°</text>
<text x="354.4" y="39.3" font-size="13" text-anchor="start" fill="#0a00e6">40°</text>
<text x="365.7" y="96.2" font-size="13" text-anchor="start" fill="#8618e8"><tspan font-style="italic">φ</tspan> = 45°</text>
<text x="365.2" y="108.7" font-size="13" text-anchor="start" fill="#8618e8">(<tspan font-style="italic">H</tspan> // [110])</text>
<text x="76.4" y="473.3" font-size="13" text-anchor="start" fill="#f000e6">2.7°</text>
<text x="145.7" y="458" font-size="13" text-anchor="start" fill="#7a10f0">2.2°</text>
<text x="209.3" y="428.3" font-size="13" text-anchor="start" fill="#0a00e6">1.7°</text>
<text x="229.9" y="409.2" font-size="13" text-anchor="start" fill="#0044ff">1.5°</text>
<text x="247" y="383.1" font-size="13" text-anchor="start" fill="#0f7cff">1.4°</text>
<text x="259.5" y="348.9" font-size="13" text-anchor="start" fill="#008484">1.2°</text>
<text x="291.9" y="347.1" font-size="13" text-anchor="start" fill="#008a10">1.0°</text>
<text x="330.3" y="343" font-size="13" text-anchor="start" fill="#848400">0.8°</text>
<text x="343.2" y="361.9" font-size="13" text-anchor="start" fill="#ff8c00">0.7°</text>
<text x="346.6" y="388.6" font-size="13" text-anchor="start" fill="#ff4a00">0.5°</text>
<text x="370.4" y="403.3" font-size="13" text-anchor="start" fill="#fa0014"><tspan font-style="italic">δθ</tspan> = 0°</text>
<text x="369.9" y="417.1" font-size="13" text-anchor="start" fill="#fa0014">(<tspan font-style="italic">H</tspan> // [100])</text>
</svg>
</body></html>
